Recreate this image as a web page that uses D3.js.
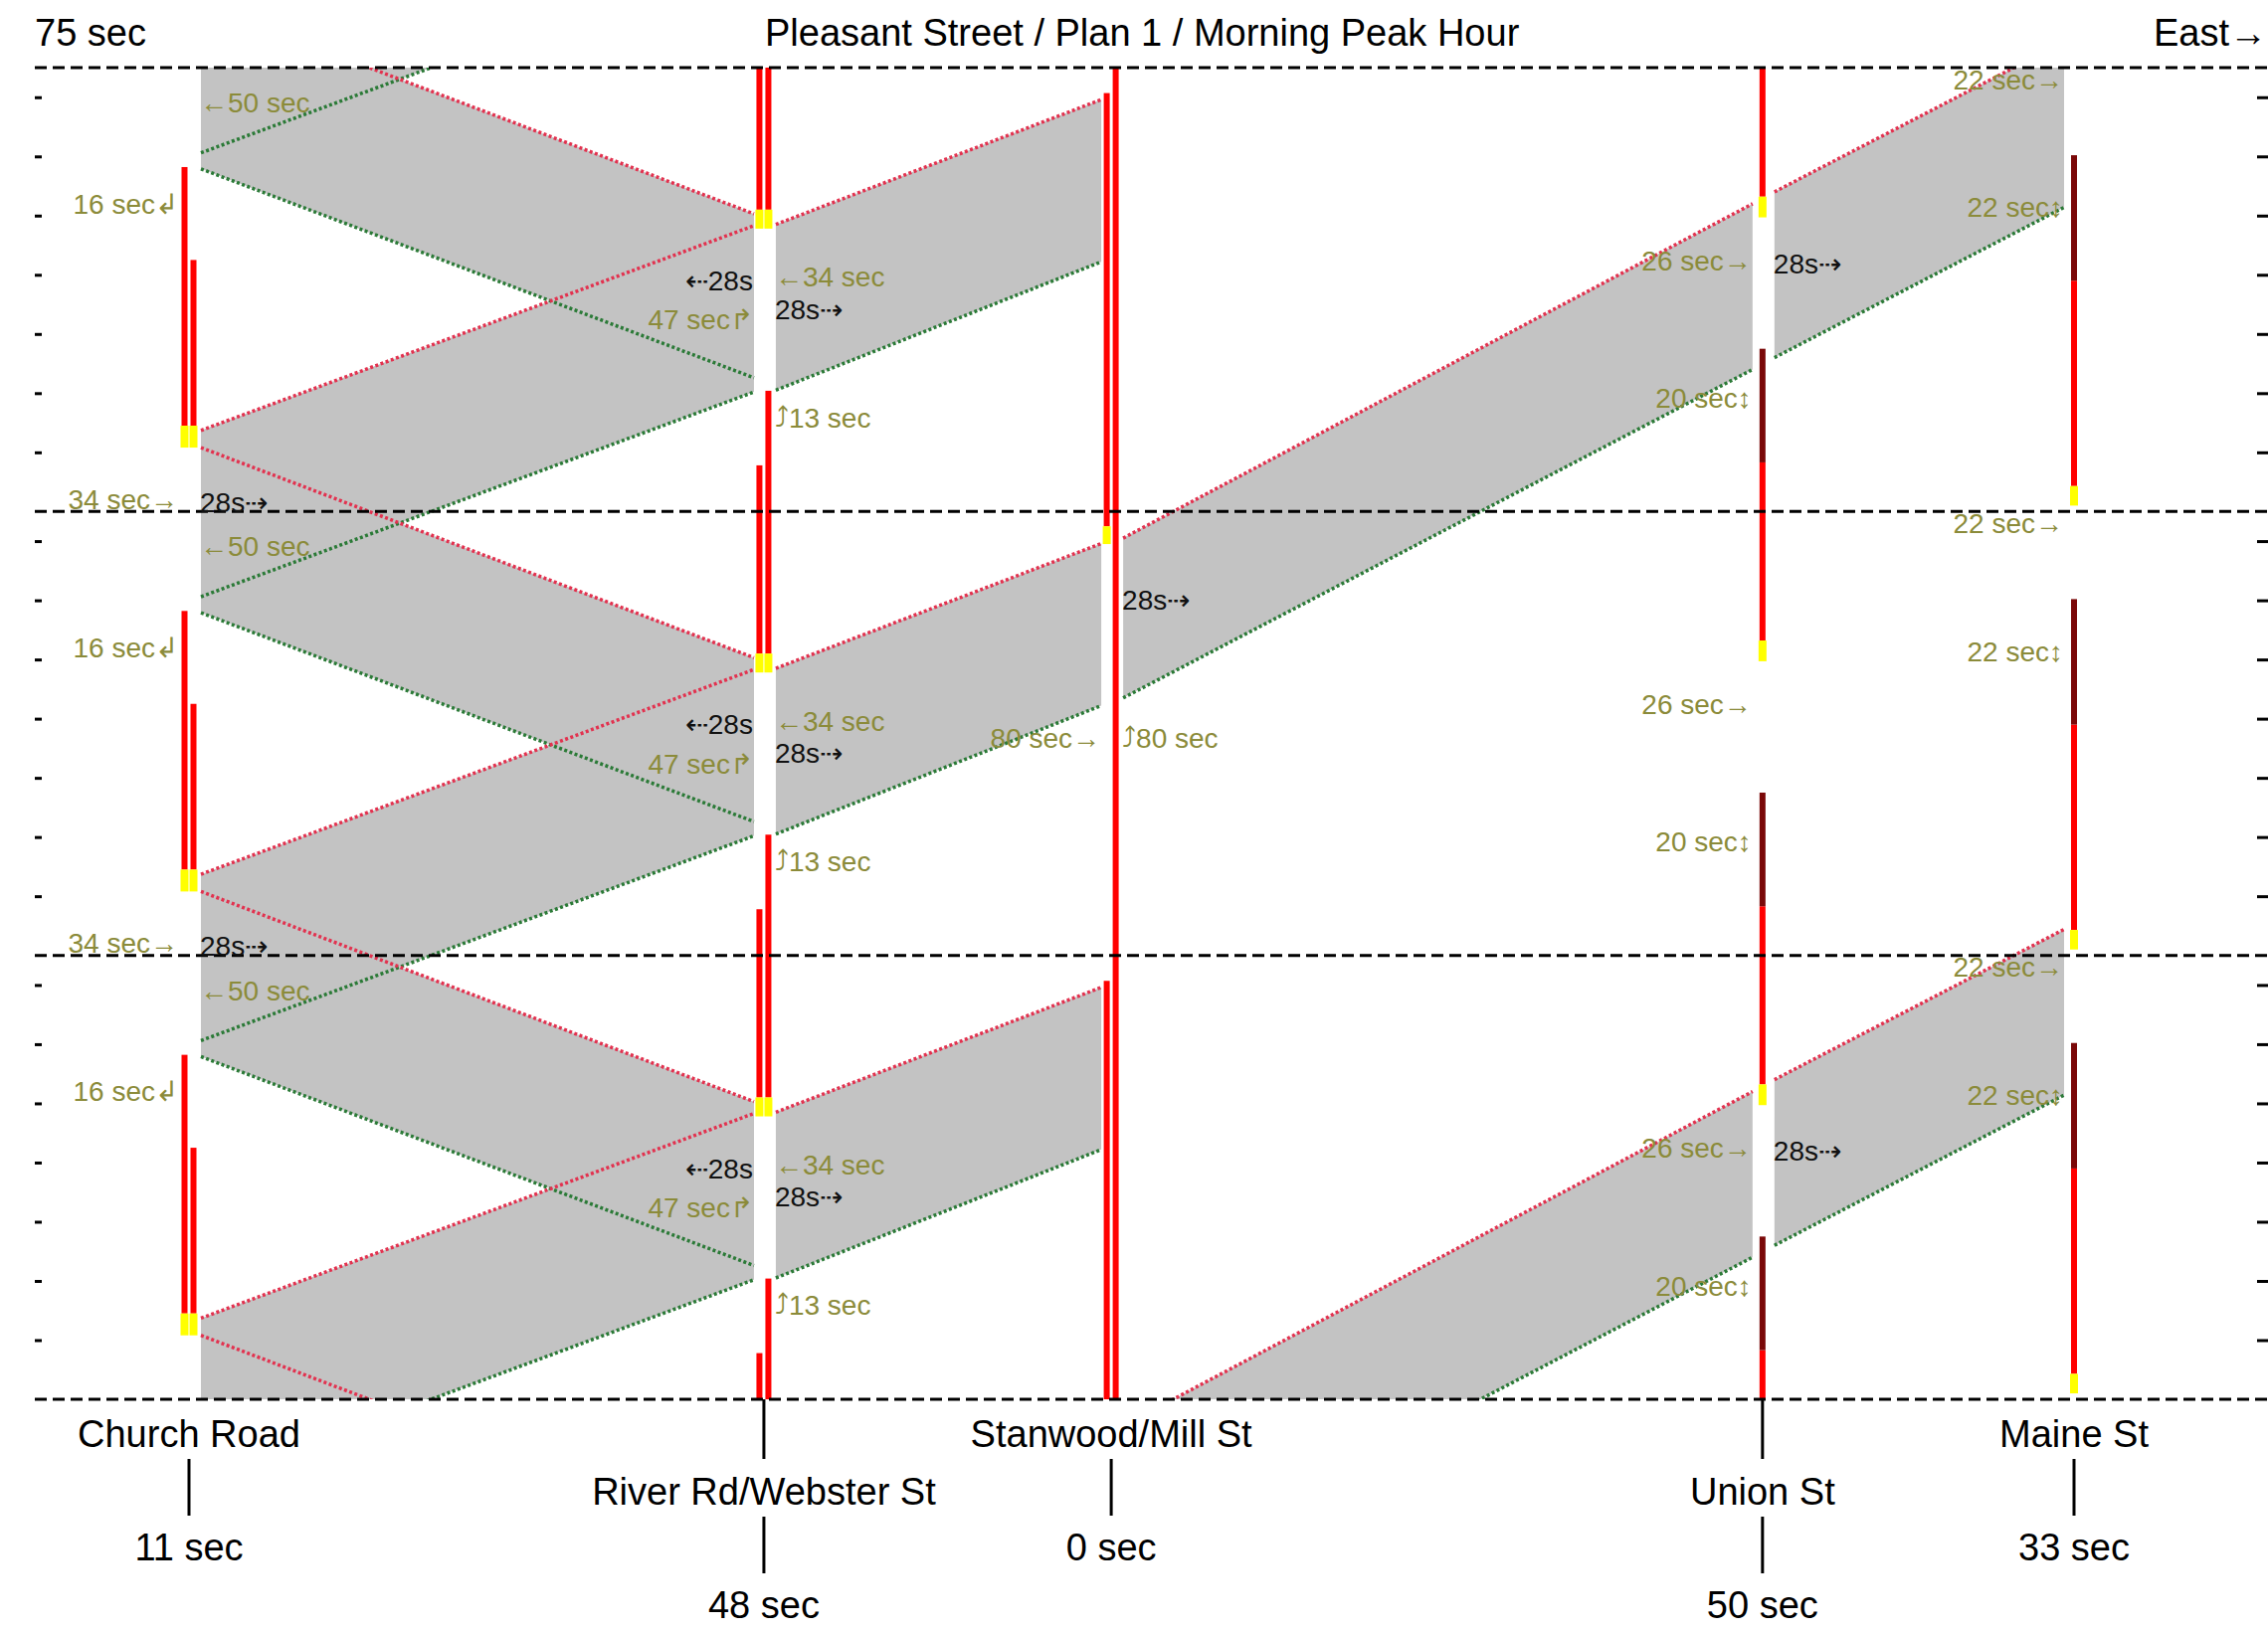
<!DOCTYPE html>
<meta charset="utf-8">
<style>
body { margin: 0; background: #fff; }
text { font-family: "Liberation Sans", Arial, sans-serif; }
</style>
<body>
<svg width="2280" height="1640"></svg>
<script src="https://d3js.org/d3.v7.min.js"></script>
<script>

// Intersections along Pleasant Street, west to east
var names = ["Church Road", "River Rd/Webster St", "Stanwood/Mill St", "Union St", "Maine St"];
var distances = [0, 1445, 2318, 3955, 4738];   // ft from Church Road
var offsets = ["11 sec", "48 sec", "0 sec", "50 sec", "33 sec"];
var labelRow = [0, 1, 0, 1, 0];

// time axis: three 75 s cycles
var cycleLines = [0, 75, 150, 225];
var tickTimes = [10, 20, 30, 40, 50, 60, 70, 85, 95, 105, 115, 125, 135, 145,
                 160, 170, 180, 190, 200, 210, 220];

// signal display: [state, start, end] in seconds of the bar's own period
var signalBars = [
  {node: 0, side: -1, period: 75,  phases: [["red", 14.5, 58.2], ["yellow", 10.8, 14.5]]},
  {node: 0, side: 1,  period: 75,  phases: [["red", 14.5, 42.5], ["yellow", 10.8, 14.5]]},
  {node: 1, side: -1, period: 75,  phases: [["red", 51, 82.8], ["yellow", 47.8, 51]]},
  {node: 1, side: 1,  period: 75,  phases: [["red", 51, 95.4], ["yellow", 47.8, 51]]},
  {node: 2, side: -1, period: 150, phases: [["red", 147.5, 220.7], ["yellow", 144.5, 147.5]]},
  {node: 2, side: 1,  period: 150, phases: [["red", 0, 150]]},
  {node: 3, side: 0,  period: 75,  phases: [["red", 53.2, 83.3], ["darkred", 83.3, 102.5], ["yellow", 49.7, 53.2]]},
  {node: 4, side: 0,  period: 75,  phases: [["red", 4.3, 39], ["darkred", 39, 60.2], ["yellow", 1, 4.3]]}
];

// green bands: [west node, east node, lead@west, lead@east, trail@west, trail@east, cycle shifts]
var bands = [
  [0, 1, 163.7, 198.3, 135.6, 170.2, [1, 0, -1, -2]],     // eastbound
  [0, 1, 235.8, 200.3, 207.9, 172.6, [0, -1, -2, -3]],    // westbound
  [1, 2, 198.5, 219.6, 170.5, 192.2, [0, -1, -2]],
  [2, 3, 145.5, 202.0, 118.5, 174.0, [0, -2]],
  [3, 4, 204.0, 229.4, 176.0, 201.4, [0, -2]]
];

// annotations: [text, node, side, time, kind, cycle shifts]
var notes = [
  ["\u219050 sec", 0, "R", 219.1, "o", [0, -1, -2]],
  ["16 sec\u21b2", 0, "L", 202.0, "o", [0, -1, -2]],
  ["34 sec\u2192", 0, "L", 152.1, "o", [0, -1]],
  ["28s\u21e2", 0, "R", 151.6, "k", [0, -1]],
  ["\u21e028s", 1, "L", 189.0, "k", [0, -1, -2]],
  ["47 sec\u21b1", 1, "L", 182.4, "o", [0, -1, -2]],
  ["\u219034 sec", 1, "R", 189.6, "o", [0, -1, -2]],
  ["28s\u21e2", 1, "R", 184.2, "k", [0, -1, -2]],
  ["\u293413 sec", 1, "R", 165.9, "o", [0, -1, -2]],
  ["28s\u21e2", 2, "R", 135.1, "k", [0]],
  ["80 sec\u2192", 2, "L", 111.7, "o", [0]],
  ["\u293480 sec", 2, "R", 111.7, "o", [0]],
  ["26 sec\u2192", 3, "L", 192.4, "o", [0, -1, -2]],
  ["28s\u21e2", 3, "R", 191.9, "k", [0, -2]],
  ["20 sec\u2195", 3, "L", 169.2, "o", [0, -1, -2]],
  ["22 sec\u2192", 4, "L", 223.0, "o", [0, -1, -2]],
  ["22 sec\u2195", 4, "L", 201.4, "o", [0, -1, -2]]
];

var cycle = 75, totalTime = 225;

var svg = d3.select("svg");
var x = d3.scaleLinear().domain([0, 4738]).range([190, 2085]);
var y = d3.scaleLinear().domain([0, totalTime]).range([1407, 68]);

var barColor = {red: "#ff0000", darkred: "#7a0808", yellow: "#ffff00"};

svg.append("defs").append("clipPath").attr("id", "plot")
  .append("rect").attr("x", 0).attr("y", y(totalTime))
  .attr("width", 2280).attr("height", y(0) - y(totalTime));

var plot = svg.append("g").attr("clip-path", "url(#plot)");

// bands
var bandShapes = [];
bands.forEach(function(b) {
  var xl = x(distances[b[0]]) + 12, xr = x(distances[b[1]]) - 10;
  b[6].forEach(function(k) {
    var s = k * cycle;
    bandShapes.push({xl: xl, xr: xr, l0: b[2] + s, l1: b[3] + s, t0: b[4] + s, t1: b[5] + s});
  });
});

plot.selectAll(".band")
  .data(bandShapes)
  .enter().append("polygon")
    .attr("fill", "#c3c3c3")
    .attr("points", function(d) {
      return [[d.xl, y(d.l0)], [d.xr, y(d.l1)], [d.xr, y(d.t1)], [d.xl, y(d.t0)]].join(" ");
    });

plot.selectAll(".trail")
  .data(bandShapes)
  .enter().append("line")
    .attr("x1", function(d) { return d.xl; })
    .attr("x2", function(d) { return d.xr; })
    .attr("y1", function(d) { return y(d.t0); })
    .attr("y2", function(d) { return y(d.t1); })
    .attr("stroke", "#2b7a37")
    .attr("stroke-width", 3.5)
    .attr("stroke-dasharray", "3,2.5");

plot.selectAll(".lead")
  .data(bandShapes)
  .enter().append("line")
    .attr("x1", function(d) { return d.xl; })
    .attr("x2", function(d) { return d.xr; })
    .attr("y1", function(d) { return y(d.l0); })
    .attr("y2", function(d) { return y(d.l1); })
    .attr("stroke", "#e2324f")
    .attr("stroke-width", 3.5)
    .attr("stroke-dasharray", "3,2.5");

// signal bars
var segs = [];
signalBars.forEach(function(b) {
  for (var k = -3; k <= 3; k++) {
    b.phases.forEach(function(p) {
      var t0 = Math.max(0, p[1] + k * b.period),
          t1 = Math.min(totalTime, p[2] + k * b.period);
      if (t1 > t0) segs.push({node: b.node, side: b.side, state: p[0], t0: t0, t1: t1});
    });
  }
});

svg.selectAll(".bar")
  .data(segs)
  .enter().append("rect")
    .attr("x", function(d) {
      var w = d.state == "yellow" ? 8 : 6;
      return x(distances[d.node]) + d.side * 4.5 - w / 2;
    })
    .attr("width", function(d) { return d.state == "yellow" ? 8 : 6; })
    .attr("y", function(d) { return y(d.t1); })
    .attr("height", function(d) { return y(d.t0) - y(d.t1); })
    .attr("fill", function(d) { return barColor[d.state]; });

// cycle boundaries
svg.selectAll(".cycle")
  .data(cycleLines)
  .enter().append("line")
    .attr("x1", 35).attr("x2", 2280)
    .attr("y1", function(d) { return y(d); })
    .attr("y2", function(d) { return y(d); })
    .attr("stroke", "#000")
    .attr("stroke-width", 3)
    .attr("stroke-dasharray", "12,6");

// side ticks
var leftAxis = svg.append("g")
  .attr("transform", "translate(35,0)")
  .call(d3.axisRight(y).tickValues(tickTimes).tickSize(7).tickFormat(""));
var rightAxis = svg.append("g")
  .attr("transform", "translate(2269,0)")
  .call(d3.axisRight(y).tickValues(tickTimes).tickSize(11).tickFormat(""));
[leftAxis, rightAxis].forEach(function(a) {
  a.select(".domain").remove();
  a.selectAll(".tick line").attr("stroke", "#000").attr("stroke-width", 3);
});

// header
svg.append("text").attr("x", 35).attr("y", 46)
  .style("font-size", "38px").text("75 sec");
svg.append("text").attr("x", 769).attr("y", 46)
  .style("font-size", "38px").text("Pleasant Street / Plan 1 / Morning Peak Hour");
svg.append("text").attr("x", 2279).attr("y", 46)
  .attr("text-anchor", "end")
  .style("font-size", "38px").text("East\u2192");

// intersection labels
var foot = svg.selectAll(".node")
  .data(names)
  .enter().append("g")
    .attr("transform", function(d, i) {
      return "translate(" + x(distances[i]) + "," + (labelRow[i] * 58) + ")";
    });

foot.filter(function(d, i) { return labelRow[i] == 1; })
  .append("line")
    .attr("y1", 1407 - 58).attr("y2", 1467 - 58)
    .attr("stroke", "#000").attr("stroke-width", 3);

foot.append("text")
  .attr("y", 1455)
  .attr("text-anchor", "middle")
  .style("font-size", "38px")
  .text(function(d) { return d; });

foot.append("line")
  .attr("y1", 1467).attr("y2", 1524)
  .attr("stroke", "#000").attr("stroke-width", 3);

foot.append("text")
  .attr("y", 1569)
  .attr("text-anchor", "middle")
  .style("font-size", "38px")
  .text(function(d, i) { return offsets[i]; });

// annotations
var noteItems = [];
notes.forEach(function(n) {
  n[5].forEach(function(k) {
    noteItems.push({text: n[0], node: n[1], side: n[2], t: n[3] + k * cycle, kind: n[4]});
  });
});

svg.selectAll(".note")
  .data(noteItems)
  .enter().append("text")
    .attr("x", function(d) {
      return x(distances[d.node]) + (d.side == "L" ? -11 : 11);
    })
    .attr("y", function(d) { return y(d.t); })
    .attr("dy", "0.35em")
    .attr("text-anchor", function(d) { return d.side == "L" ? "end" : "start"; })
    .attr("fill", function(d) { return d.kind == "k" ? "#111" : "#8b8b3a"; })
    .style("font-size", "28px")
    .text(function(d) { return d.text; });

</script>
